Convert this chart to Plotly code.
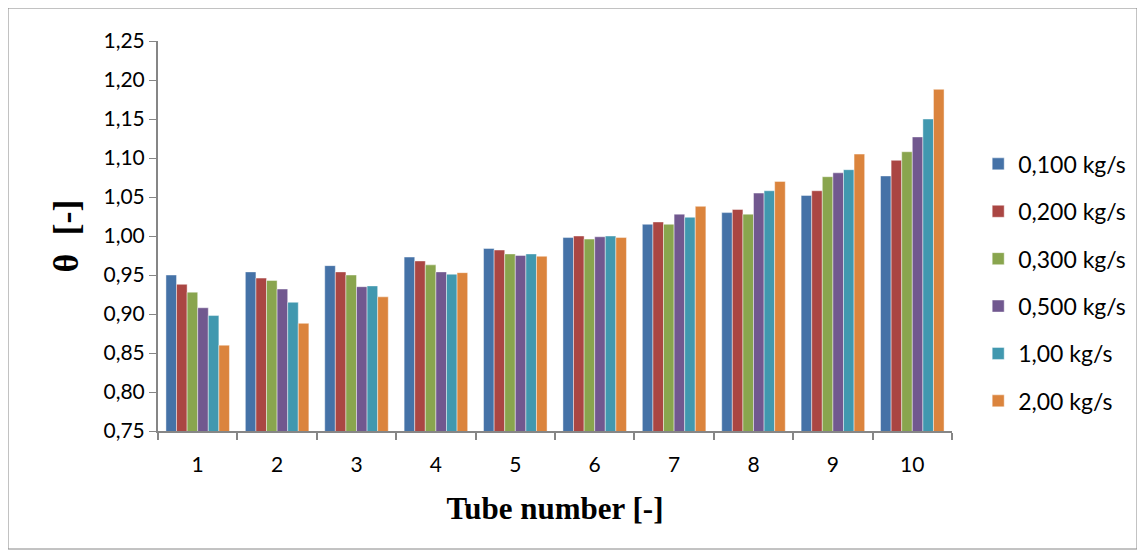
import plotly.graph_objects as go

tubes = ["1", "2", "3", "4", "5", "6", "7", "8", "9", "10"]
series_names = ["0,100 kg/s", "0,200 kg/s", "0,300 kg/s", "0,500 kg/s", "1,00 kg/s", "2,00 kg/s"]
colors = ["#4572A7", "#AA4643", "#89A54E", "#71588F", "#4198AF", "#DB843D"]

v_0100 = [0.950, 0.954, 0.962, 0.973, 0.984, 0.998, 1.015, 1.030, 1.052, 1.077]
v_0200 = [0.938, 0.946, 0.954, 0.968, 0.982, 1.000, 1.018, 1.034, 1.058, 1.097]
v_0300 = [0.928, 0.943, 0.950, 0.963, 0.977, 0.996, 1.015, 1.028, 1.076, 1.108]
v_0500 = [0.908, 0.932, 0.935, 0.954, 0.975, 0.999, 1.028, 1.055, 1.081, 1.127]
v_1000 = [0.898, 0.915, 0.936, 0.951, 0.977, 1.000, 1.024, 1.058, 1.085, 1.150]
v_2000 = [0.860, 0.888, 0.922, 0.953, 0.974, 0.998, 1.038, 1.070, 1.105, 1.188]
all_values = [v_0100, v_0200, v_0300, v_0500, v_1000, v_2000]

y_ticks = [0.75, 0.80, 0.85, 0.90, 0.95, 1.00, 1.05, 1.10, 1.15, 1.20, 1.25]
y_ticktext = [f"{t:.2f}".replace(".", ",") for t in y_ticks]

fig = go.Figure()
for name, vals, col in zip(series_names, all_values, colors):
    fig.add_trace(go.Bar(
        x=tubes, y=vals, name=name, legendgroup=name,
        marker=dict(color=col, line=dict(color="rgba(255,255,255,0.55)", width=0.8)),
    ))

# page offset of 8px (body margin) compensated
OFF = 8
L, R, T, B = 158 - OFF, 952 - OFF, 41 - OFF, 431 - OFF
W, H = 1145 - OFF, 554 - OFF

fig.update_layout(
    width=W, height=H,
    margin=dict(l=L, r=W - R, t=T, b=H - B),
    paper_bgcolor="white", plot_bgcolor="white",
    barmode="group", bargap=0.2, bargroupgap=0,
    font=dict(family="Lato, Open Sans, sans-serif", size=22, color="#000000"),
    legend=dict(x=1.033, xanchor="left", y=0.74, yanchor="top",
                font=dict(size=23, family="Lato, sans-serif"),
                tracegroupgap=14.5, itemwidth=30, traceorder="grouped",
                bgcolor="rgba(0,0,0,0)"),
    showlegend=True,
    xaxis=dict(
        type="category", tickson="boundaries", ticks="outside", ticklen=7,
        tickcolor="#868686", tickwidth=2, showline=True, linecolor="#868686",
        linewidth=2, showgrid=False, zeroline=False,
        tickfont=dict(size=21), ticklabelstandoff=14,
        title=dict(text="<b>Tube number [-]</b>",
                   font=dict(family="Liberation Serif, Times New Roman, serif", size=31),
                   standoff=22),
    ),
    yaxis=dict(
        range=[0.75, 1.25], tickvals=y_ticks, ticktext=y_ticktext,
        ticks="outside", ticklen=7, tickcolor="#868686", tickwidth=1,
        showline=True, linecolor="#868686", linewidth=2, showgrid=False,
        zeroline=False, tickfont=dict(size=21),
        title=dict(text="<b>θ  [-]</b>",
                   font=dict(family="Liberation Serif, Times New Roman, serif", size=36),
                   standoff=14),
    ),
)

# outer chart border
x0p = (8 - 158) / (952 - 158)
x1p = (1137 - 158) / (952 - 158)
y0p = (431 - 549) / (431 - 41)
y1p = (431 - 8) / (431 - 41)
fig.add_shape(type="rect", xref="paper", yref="paper",
              x0=x0p, x1=x1p, y0=y0p, y1=y1p,
              line=dict(color="#868686", width=1), fillcolor="rgba(0,0,0,0)", layer="below")

fig.write_html("out.html")
